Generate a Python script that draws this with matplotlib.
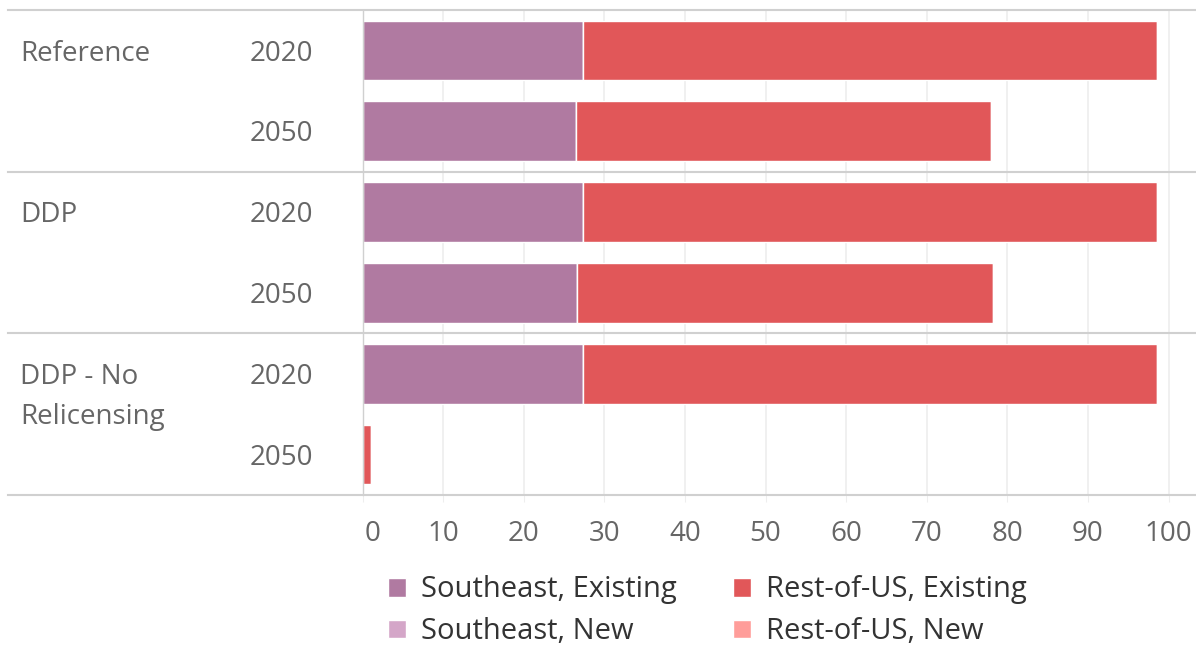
import matplotlib
matplotlib.use('Agg')
import matplotlib.pyplot as plt
import matplotlib.transforms as mtransforms
import numpy as np

# data
scenarios = ['Reference', 'DDP', 'DDP - No\nRelicensing']
years = ['2020', '2050', '2020', '2050', '2020', '2050']
se_existing = [27.3, 26.45, 27.3, 26.65, 27.3, 0.0]
se_new = [0, 0, 0, 0, 0, 0]
rest_existing = [71.3, 51.55, 71.3, 51.55, 71.3, 1.1]
rest_new = [0, 0, 0, 0, 0, 0]
xticks = [0, 10, 20, 30, 40, 50, 60, 70, 80, 90, 100]

series = [
    ('Southeast, Existing', se_existing, '#b07aa1'),
    ('Southeast, New', se_new, '#d4a6c8'),
    ('Rest-of-US, Existing', rest_existing, '#e15759'),
    ('Rest-of-US, New', rest_new, '#ff9d9a'),
]

plt.rcParams['font.family'] = ['Open Sans', 'DejaVu Sans']
txt = '#666666'
line_c = '#d0d0d0'
fs = 20
fs_leg = 21

fig = plt.figure(figsize=(11.96, 6.45), dpi=100)
ax = fig.add_axes([362.5 / 1196, 1 - 495 / 645, 1 - 362.5 / 1196, 485 / 645])

y = np.arange(len(years))
left = np.zeros(len(years))
handles = []
for name, vals, col in series:
    vals = np.array(vals, dtype=float)
    b = ax.barh(y, vals, left=left, height=0.74, color=col, edgecolor='white',
                linewidth=1, label=name)
    handles.append(b)
    left = left + vals

ax.set_xlim(0, 103.4)
ax.set_ylim(len(years) - 0.5, -0.5)
ax.set_yticks([])
ax.set_xticks(xticks)
ax.set_xticklabels([str(t) for t in xticks])
ax.tick_params(axis='x', length=5, color='#eeeeee', pad=13, labelsize=fs, labelcolor=txt)
# the 0 label sits a little right of its tick in the original
lab0 = ax.get_xticklabels()[0]
lab0.set_transform(lab0.get_transform() + mtransforms.ScaledTranslation(10 / 100, 0, fig.dpi_scale_trans))
ax.grid(axis='x', color='#eeeeee', linewidth=1.2)
ax.set_axisbelow(True)
for s in ['top', 'right', 'bottom']:
    ax.spines[s].set_visible(False)
ax.spines['left'].set_color(line_c)
ax.spines['left'].set_linewidth(1)

# row separators spanning the label area too
x0 = (8 - 362.5) / (1196 - 362.5)
for yy in [-0.5, 1.5, 3.5, 5.5]:
    ax.axhline(yy, xmin=x0, xmax=1, color=line_c, linewidth=1.5, clip_on=False)

tr = ax.get_yaxis_transform()
xs = (20 - 362.5) / (1196 - 362.5)
xy = (313 - 362.5) / (1196 - 362.5)
dy = 0.04
ax.text(xs, 0 + dy, 'Reference', transform=tr, ha='left', va='center', fontsize=fs, color=txt)
ax.text(xs, 2 + dy, 'DDP', transform=tr, ha='left', va='center', fontsize=fs, color=txt)
ax.text(xs, 4 + dy, 'DDP - No', transform=tr, ha='left', va='center', fontsize=fs, color=txt)
ax.text(xs, 4.5 + dy, 'Relicensing', transform=tr, ha='left', va='center', fontsize=fs, color=txt)
for i, yr in enumerate(years):
    ax.text(xy, i + dy, yr, transform=tr, ha='right', va='center', fontsize=fs, color=txt)

fig.legend(handles=handles, ncol=2, loc='upper left', bbox_to_anchor=(368 / 1196, 1 - 555 / 645),
           frameon=False, fontsize=fs_leg, labelcolor='#333333', handlelength=0.62,
           handleheight=0.62, handletextpad=0.5, columnspacing=1.93, labelspacing=0.44,
           borderpad=0.2)

fig.savefig('out.png', dpi=100)
